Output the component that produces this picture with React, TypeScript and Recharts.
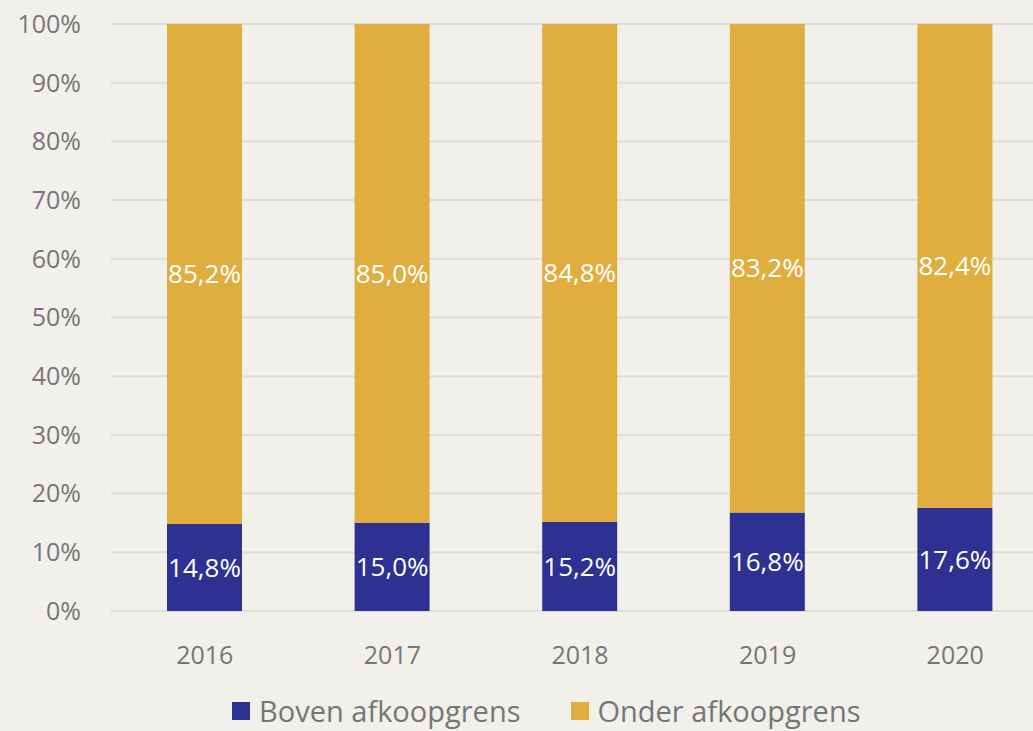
import { BarChart, Bar, XAxis, YAxis, CartesianGrid, Legend, LabelList } from 'recharts'

const years = ['2016', '2017', '2018', '2019', '2020']
const boven = [14.8, 15.0, 15.2, 16.8, 17.6]
const onder = [85.2, 85.0, 84.8, 83.2, 82.4]
const yTicks = [0, 10, 20, 30, 40, 50, 60, 70, 80, 90, 100]

const series = [
  { key: 'boven', name: 'Boven afkoopgrens', color: '#2e3192' },
  { key: 'onder', name: 'Onder afkoopgrens', color: '#dfae3f' },
]

const data = years.map((year, i) => ({ year, boven: boven[i], onder: onder[i] }))

const FONT = '"Open Sans", "Noto Sans", sans-serif'
const GREY = '#767676'

const fmt = (v: any) => `${Number(v).toFixed(1).replace('.', ',')}%`

const LegendContent = () => (
  <div
    style={{
      display: 'flex',
      alignItems: 'center',
      paddingLeft: 232,
      paddingTop: 12,
      gap: 50,
      fontFamily: FONT,
      fontSize: 29,
      color: GREY,
      lineHeight: '36px',
    }}
  >
    {series.map((s) => (
      <div key={s.key} style={{ display: 'flex', alignItems: 'center' }}>
        <span style={{ width: 18, height: 18, background: s.color, marginRight: 9, display: 'inline-block' }} />
        <span>{s.name}</span>
      </div>
    ))}
  </div>
)

export default function App() {
  return (
    <div
      style={{
        position: 'absolute',
        left: 0,
        top: 0,
        width: 1033,
        height: 731,
        overflow: 'hidden',
        background: '#f1f0eb',
      }}
    >
      <BarChart
        width={1049}
        height={731}
        data={data}
        margin={{ top: 24, right: 0, bottom: 0, left: 0 }}
        style={{ fontFamily: FONT }}
      >
        <CartesianGrid vertical={false} stroke="#dfddda" strokeWidth={2} />
        <XAxis
          dataKey="year"
          axisLine={false}
          tickLine={false}
          height={70}
          tickMargin={29}
          tick={{ fill: GREY, fontSize: 25 }}
        />
        <YAxis
          domain={[0, 100]}
          ticks={yTicks}
          width={111}
          axisLine={false}
          tickLine={false}
          tickMargin={24}
          tickFormatter={(v) => `${v}%`}
          tick={{ fill: GREY, fontSize: 25 }}
        />
        <Legend verticalAlign="bottom" height={50} content={<LegendContent />} />
        {series.map((s) => (
          <Bar
            key={s.key}
            dataKey={s.key}
            name={s.name}
            stackId="a"
            fill={s.color}
            barSize={75}
            isAnimationActive={false}
          >
            <LabelList dataKey={s.key} position="center" fill="#ffffff" fontSize={26} formatter={fmt} />
          </Bar>
        ))}
      </BarChart>
    </div>
  )
}
